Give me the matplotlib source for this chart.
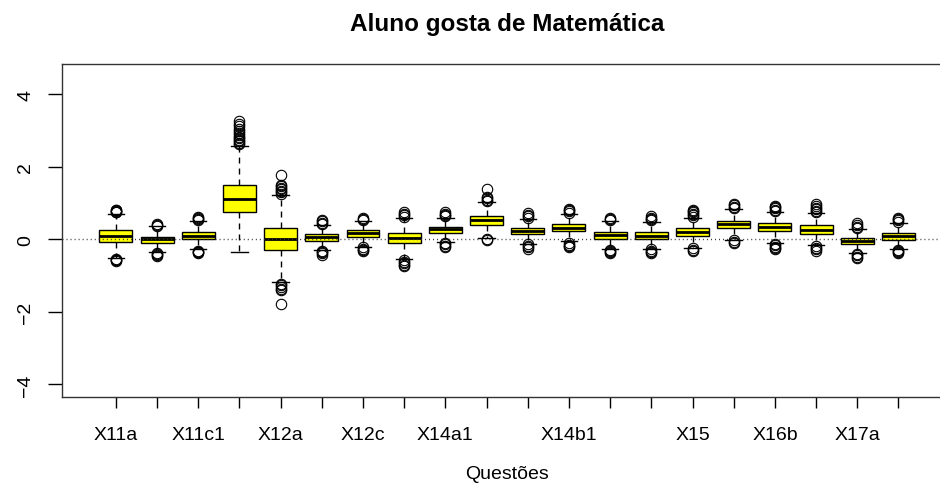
import matplotlib
matplotlib.use("Agg")
import matplotlib.pyplot as plt

plt.rcParams["font.family"] = ["Liberation Sans", "DejaVu Sans"]

# one box per question (only the labels that fit are printed on the axis)
tick_labels = ["X11a", "", "X11c1", "", "X12a", "", "X12c", "", "X14a1", "",
               "", "X14b1", "", "", "X15", "", "X16b", "", "X17a", ""]

q1 = [-0.07, -0.10, 0.00, 0.74, -0.29, -0.04, 0.07, -0.11, 0.17, 0.39,
      0.14, 0.22, 0.01, 0.00, 0.08, 0.30, 0.22, 0.15, -0.14, -0.02]
medians = [0.10, 0.00, 0.10, 1.10, 0.00, 0.07, 0.17, 0.04, 0.27, 0.52,
           0.23, 0.32, 0.12, 0.10, 0.19, 0.41, 0.33, 0.26, -0.05, 0.08]
q3 = [0.25, 0.07, 0.19, 1.50, 0.32, 0.15, 0.25, 0.17, 0.35, 0.65,
      0.31, 0.42, 0.21, 0.19, 0.30, 0.51, 0.44, 0.38, 0.04, 0.17]
whisk_lo = [-0.52, -0.34, -0.28, -0.34, -1.19, -0.30, -0.20, -0.55, -0.07, 0.04,
            -0.12, -0.06, -0.28, -0.26, -0.23, -0.01, -0.10, -0.17, -0.37, -0.28]
whisk_hi = [0.70, 0.36, 0.51, 2.58, 1.22, 0.39, 0.51, 0.60, 0.60, 1.02,
            0.57, 0.70, 0.50, 0.48, 0.60, 0.84, 0.76, 0.72, 0.28, 0.46]

fliers_hi = [
    [0.74, 0.76, 0.78, 0.80, 0.82],
    [0.37, 0.39, 0.41],
    [0.53, 0.56, 0.58, 0.61],
    [2.62, 2.66, 2.70, 2.74, 2.78, 2.82, 2.87, 2.92, 2.98, 3.05, 3.12, 3.19, 3.25],
    [1.26, 1.30, 1.34, 1.38, 1.42, 1.46, 1.50, 1.77],
    [0.42, 0.46, 0.50, 0.53],
    [0.53, 0.56, 0.59],
    [0.62, 0.66, 0.70, 0.74],
    [0.63, 0.67, 0.71, 0.74],
    [1.05, 1.09, 1.13, 1.17, 1.38],
    [0.60, 0.64, 0.68, 0.72],
    [0.73, 0.77, 0.80, 0.83],
    [0.52, 0.55, 0.59],
    [0.52, 0.56, 0.60, 0.65],
    [0.62, 0.66, 0.70, 0.74, 0.78, 0.81],
    [0.86, 0.90, 0.94, 0.97],
    [0.78, 0.82, 0.86, 0.90, 0.93],
    [0.75, 0.79, 0.83, 0.87, 0.92, 0.97],
    [0.31, 0.35, 0.39, 0.44],
    [0.48, 0.52, 0.56, 0.59],
]
fliers_lo = [
    [-0.54, -0.56, -0.58, -0.60],
    [-0.38, -0.41, -0.44, -0.47],
    [-0.31, -0.34, -0.36, -0.39],
    [],
    [-1.23, -1.27, -1.31, -1.36, -1.41, -1.78],
    [-0.32, -0.35, -0.38, -0.42],
    [-0.22, -0.26, -0.30, -0.33],
    [-0.58, -0.62, -0.66, -0.70, -0.74],
    [-0.10, -0.14, -0.18, -0.22],
    [0.00, -0.03],
    [-0.14, -0.18, -0.22, -0.26],
    [-0.11, -0.15, -0.19, -0.22],
    [-0.30, -0.33, -0.36, -0.39],
    [-0.28, -0.32, -0.36, -0.39],
    [-0.25, -0.29, -0.33],
    [-0.03, -0.07, -0.10],
    [-0.12, -0.16, -0.20, -0.24, -0.27],
    [-0.19, -0.23, -0.27, -0.31],
    [-0.40, -0.44, -0.48, -0.52],
    [-0.30, -0.33, -0.36, -0.39],
]

stats = []
for i in range(len(medians)):
    stats.append({"med": medians[i], "q1": q1[i], "q3": q3[i],
                  "whislo": whisk_lo[i], "whishi": whisk_hi[i],
                  "fliers": fliers_hi[i] + fliers_lo[i]})

positions = list(range(1, len(medians) + 1))

fig = plt.figure(figsize=(9.4, 4.85), dpi=100)
# plot region runs a little past the right edge of the canvas
ax = fig.add_axes([0.0663, 0.180, 0.9465, 0.6866])

ax.bxp(stats, positions=positions, widths=0.8, patch_artist=True,
       boxprops=dict(facecolor="#FFFF00", edgecolor="black", linewidth=1.0),
       medianprops=dict(color="black", linewidth=2.0),
       whiskerprops=dict(color="black", linewidth=1.0, linestyle=(0, (4.3, 3.6))),
       capprops=dict(color="black", linewidth=1.0),
       flierprops=dict(marker="o", markerfacecolor="none", markeredgecolor="black",
                       markersize=7.5, markeredgewidth=0.8))

ax.axhline(0, color="#333333", linewidth=1.0, linestyle=(0, (0.7, 2.2)), zorder=5)

ax.set_xlim(-0.3, 21.3)
ax.set_ylim(-4.34, 4.84)
ax.set_xticks(positions)
ax.set_xticklabels(tick_labels)
ax.set_yticks([-4, -2, 0, 2, 4])
ax.set_yticklabels(["\u22124", "\u22122", "0", "2", "4"])

ax.tick_params(axis="x", direction="out", length=7.9, width=1.0, pad=13.5, labelsize=14)
ax.tick_params(axis="y", direction="out", length=10, width=1.0, pad=10.3, labelsize=14)
for lab in ax.get_yticklabels():
    lab.set_rotation(90)
    lab.set_va("center")

for sp in ax.spines.values():
    sp.set_color("#333333")
    sp.set_linewidth(1.0)

ax.set_title("Aluno gosta de Matemática", fontsize=17.5, fontweight="bold", pad=24.3)
ax.set_xlabel("Questões", fontsize=14)
ax.xaxis.set_label_coords(0.5, -0.244)
ax.xaxis.label.set_va("baseline")

fig.savefig("out.png", dpi=100)
